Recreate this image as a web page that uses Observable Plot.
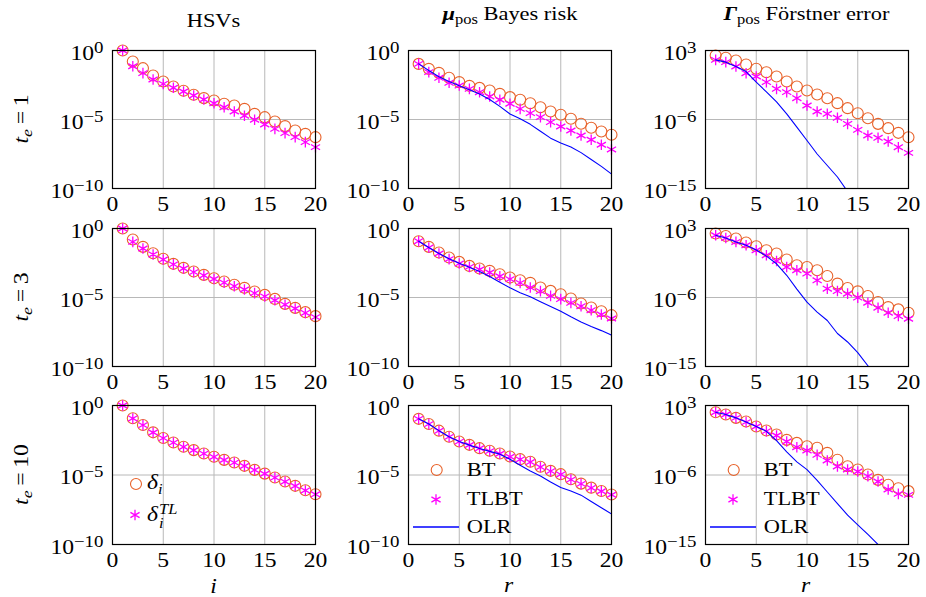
<!DOCTYPE html>
<html><head><meta charset="utf-8">
<script src="https://cdn.jsdelivr.net/npm/d3@7"></script>
<script src="https://cdn.jsdelivr.net/npm/@observablehq/plot@0.6"></script>
<style>
body{margin:0;background:#fff}
#chart{position:relative;width:926px;height:597px;overflow:hidden;background:#fff}
#chart svg.panel{position:absolute}
#overlay{position:absolute;left:0;top:0;pointer-events:none}
</style></head><body><div id="chart"></div>
<script>
// ---------- data (log10 of the plotted values), index k = 1..20 ----------
const ranks = [1,2,3,4,5,6,7,8,9,10,11,12,13,14,15,16,17,18,19,20];
const xTicks = [0,5,10,15,20];
const xGrid = [5,10,15];
const leftTicks = [1, 1e-5, 1e-10];
const rightTicks = [1e3, 1e-6, 1e-15];
const rowLabels = ["1","3","10"];
const colTitles = ["HSVs","Bayes risk","Förstner error"];
const legendMid = ["BT","TLBT","OLR"];

// t_e = 1
const hsvBT_1   = [0,-0.8,-1.28,-1.81,-2.25,-2.61,-2.92,-3.21,-3.45,-3.62,-3.86,-3.99,-4.23,-4.59,-4.83,-5.14,-5.48,-5.80,-6.04,-6.28];
const hsvTL_1   = [0,-1.14,-1.64,-2.10,-2.42,-2.70,-2.97,-3.26,-3.55,-3.82,-4.11,-4.42,-4.73,-5.02,-5.36,-5.68,-5.99,-6.28,-6.64,-7.0];
const bayBT_1   = [-0.97,-1.33,-1.62,-1.98,-2.29,-2.56,-2.71,-2.90,-3.14,-3.38,-3.57,-3.82,-4.11,-4.42,-4.66,-4.95,-5.31,-5.60,-5.87,-6.11];
const bayTL_1   = [-0.97,-1.57,-1.98,-2.34,-2.54,-2.78,-3.02,-3.33,-3.57,-3.86,-4.23,-4.54,-4.83,-5.19,-5.51,-5.80,-6.16,-6.47,-6.83,-7.17];
const bayOLR_1  = [-0.97,-1.45,-1.9,-2.25,-2.55,-2.85,-3.15,-3.55,-4.05,-4.6,-4.95,-5.35,-5.85,-6.35,-6.7,-7.0,-7.4,-7.9,-8.4,-8.95];
const forBT_1   = [2.35,2.05,1.70,1.17,0.61,0.17,-0.39,-1.04,-1.70,-2.22,-2.74,-3.22,-3.87,-4.52,-5.18,-5.83,-6.57,-7.13,-7.74,-8.31];
const forTL_1   = [1.78,1.48,0.91,0.04,-0.39,-1.13,-2.0,-2.43,-3.22,-4.17,-4.96,-5.26,-5.78,-6.57,-7.35,-8.09,-8.39,-8.87,-9.61,-10.35];
const forOLR_1  = [1.78,1.48,0.9,0.26,-1.13,-2.4,-3.7,-5.26,-7.0,-8.74,-10.5,-12.0,-13.5,-15.4];
// t_e = 3
const hsvBT_3   = [0,-0.8,-1.33,-1.79,-2.19,-2.56,-2.85,-3.12,-3.36,-3.60,-3.84,-4.08,-4.30,-4.57,-4.81,-5.10,-5.46,-5.75,-6.06,-6.35];
const hsvTL_3   = [0,-0.97,-1.45,-1.88,-2.25,-2.6,-2.9,-3.16,-3.4,-3.66,-3.92,-4.18,-4.42,-4.68,-4.92,-5.2,-5.52,-5.8,-6.12,-6.42];
const bayBT_3   = [-0.92,-1.33,-1.74,-2.10,-2.42,-2.71,-2.90,-3.07,-3.31,-3.55,-3.75,-3.94,-4.28,-4.52,-4.76,-5.07,-5.43,-5.72,-6.0,-6.28];
const bayTL_3   = [-0.92,-1.38,-1.81,-2.22,-2.54,-2.78,-2.97,-3.19,-3.46,-3.67,-3.94,-4.28,-4.54,-4.88,-5.12,-5.39,-5.63,-5.92,-6.23,-6.52];
const bayOLR_3  = [-0.92,-1.38,-1.81,-2.2,-2.52,-2.8,-3.12,-3.48,-3.9,-4.3,-4.65,-4.95,-5.3,-5.65,-6.0,-6.4,-6.77,-7.1,-7.4,-7.73];
const forBT_3   = [2.35,2.03,1.69,1.17,0.69,0.16,-0.27,-1.05,-1.80,-2.02,-2.45,-3.2,-4.19,-4.76,-5.2,-5.81,-6.59,-7.25,-7.55,-7.98];
const forTL_3   = [2.12,1.77,1.25,0.82,0.16,-0.49,-1.24,-2.02,-2.45,-2.89,-3.76,-4.85,-5.16,-5.5,-6.02,-6.68,-7.33,-7.98,-8.42,-8.77];
const forOLR_3  = [2.12,1.77,1.25,0.82,0.2,-0.6,-1.6,-3.1,-4.9,-6.6,-7.9,-9.0,-10.7,-11.8,-13.2,-14.9,-16.6];
// t_e = 10
const hsvBT_10  = [0,-0.92,-1.40,-1.93,-2.34,-2.66,-2.97,-3.21,-3.45,-3.69,-3.91,-4.10,-4.34,-4.63,-4.90,-5.18,-5.47,-5.78,-6.10,-6.38];
const hsvTL_10  = [0,-0.93,-1.41,-1.94,-2.35,-2.67,-2.98,-3.22,-3.46,-3.70,-3.92,-4.11,-4.35,-4.64,-4.91,-5.19,-5.48,-5.79,-6.11,-6.39];
const bayBT_10  = [-0.96,-1.33,-1.81,-2.25,-2.59,-2.83,-3.07,-3.26,-3.45,-3.67,-3.86,-4.05,-4.41,-4.70,-4.94,-5.31,-5.62,-5.91,-6.15,-6.40];
const bayTL_10  = [-0.96,-1.34,-1.82,-2.26,-2.6,-2.84,-3.08,-3.28,-3.47,-3.69,-3.88,-4.07,-4.43,-4.72,-4.96,-5.33,-5.64,-5.93,-6.17,-6.42];
const bayOLR_10 = [-0.96,-1.33,-1.81,-2.25,-2.59,-2.85,-3.1,-3.3,-3.5,-3.86,-4.3,-4.71,-5.07,-5.5,-5.9,-6.15,-6.45,-6.9,-7.35,-7.8];
const forBT_10  = [2.13,1.83,1.40,0.93,0.28,-0.24,-0.76,-1.45,-1.84,-2.28,-2.48,-3.13,-4.03,-4.86,-5.29,-5.93,-6.63,-7.27,-7.71,-8.09];
const forTL_10  = [2.13,1.83,1.40,0.85,0.28,-0.32,-0.89,-1.66,-2.40,-2.83,-3.39,-4.12,-4.90,-5.29,-5.55,-6.15,-6.84,-7.88,-8.44,-8.57];
const forOLR_10 = [2.13,1.83,1.4,0.85,0.28,-0.35,-1.55,-3.0,-4.3,-5.3,-6.7,-8.2,-9.7,-11.2,-12.45,-13.7,-15.0];

const grid = [
  [[hsvBT_1,hsvTL_1,null],[bayBT_1,bayTL_1,bayOLR_1],[forBT_1,forTL_1,forOLR_1]],
  [[hsvBT_3,hsvTL_3,null],[bayBT_3,bayTL_3,bayOLR_3],[forBT_3,forTL_3,forOLR_3]],
  [[hsvBT_10,hsvTL_10,null],[bayBT_10,bayTL_10,bayOLR_10],[forBT_10,forTL_10,forOLR_10]]
];

// ---------- layout / style ----------
const FONT = "'Liberation Serif', 'Times New Roman', serif";
const FS = 19, FS_TICK = 20, FS_SUP = 16, FS_SMALL = 14, SX = 1.18;
const ORANGE = "#e8622a", MAGENTA = "#ff00ff", BLUE = "#0000ff", GRID = "#b8b8b8";
const colLeft = [112, 408, 705], rowTop = [50, 228, 405], rowH = [138, 138, 139], FW = 203;
const ML = 78, MR = 20, MT = 15, MB = 36;
const svgNS = "http://www.w3.org/2000/svg";
const toRows = arr => arr.map((v, i) => ({x: ranks[i], y: Math.pow(10, v)}));
const STAR_R = 5.0;

// widen a text horizontally around its anchor point
function widen(t) {
  let tr = t.getAttribute("transform");
  if (!tr) {
    const x = t.getAttribute("x") || 0, y = t.getAttribute("y") || 0;
    t.removeAttribute("x"); t.removeAttribute("y");
    tr = `translate(${x},${y})`;
  }
  t.setAttribute("transform", tr + ` scale(${SX},1)`);
}

const root = document.getElementById("chart");

for (let r = 0; r < 3; r++) {
  for (let c = 0; c < 3; c++) {
    const [bt, tl, olr] = grid[r][c];
    const yT = c === 2 ? rightTicks : leftTicks;
    const yDom = c === 2 ? [1e-15, 1e3] : [1e-10, 1];
    const marks = [
      Plot.gridX(xGrid, {stroke: GRID, strokeOpacity: 1, strokeWidth: 1}),
      Plot.gridY([yT[1]], {stroke: GRID, strokeOpacity: 1, strokeWidth: 1}),
      Plot.dot(toRows(bt), {x: "x", y: "y", r: 5.5, stroke: ORANGE, fill: "none", strokeWidth: 1.1}),
      Plot.dot(toRows(tl), {x: "x", y: "y", r: STAR_R, symbol: "asterisk", stroke: MAGENTA, fill: "none", strokeWidth: 1.3})
    ];
    if (olr) marks.push(Plot.line(toRows(olr), {x: "x", y: "y", stroke: BLUE, strokeWidth: 1.1, clip: true}));
    marks.push(
      Plot.frame({stroke: "#000", strokeWidth: 1.2}),
      Plot.axisX(xTicks, {tickSize: 0, tickPadding: 8, label: null, fontSize: FS_TICK}),
      Plot.axisY(yT, {tickSize: 0, tickPadding: 9, label: null, fontSize: FS_TICK, dy: 3,
        tickFormat: d => "10^" + Math.round(Math.log10(d))})
    );
    const chart = Plot.plot({
      width: FW + ML + MR, height: rowH[r] + MT + MB,
      marginLeft: ML, marginRight: MR, marginTop: MT, marginBottom: MB,
      x: {type: "linear", domain: [0, 20]},
      y: {type: "log", domain: yDom},
      style: {fontFamily: FONT, fontSize: FS_TICK + "px", color: "#000", background: "none", overflow: "visible"},
      marks
    });
    chart.classList.add("panel");
    chart.style.left = (colLeft[c] - ML) + "px";
    chart.style.top = (rowTop[r] - MT) + "px";
    chart.querySelectorAll('g[aria-label="y-axis tick label"] text').forEach(t => {
      const parts = t.textContent.split("^");
      if (parts.length !== 2) return;
      t.textContent = parts[0];
      const ts = document.createElementNS(svgNS, "tspan");
      ts.setAttribute("dy", "-7");
      ts.setAttribute("font-size", FS_SUP + "px");
      ts.textContent = parts[1].replace("-", "\u2212");
      t.appendChild(ts);
      widen(t);
    });
    chart.querySelectorAll('g[aria-label="x-axis tick label"] text').forEach(widen);
    root.appendChild(chart);
  }
}

// ---------- overlay: titles, row labels, axis labels, legends ----------
const ov = d3.select(root).append("svg").attr("id", "overlay")
  .attr("width", 926).attr("height", 597)
  .style("font-family", FONT).style("font-size", FS + "px");

function txt(x, y, parts, anchor, rot) {
  const t = ov.append("text").attr("text-anchor", anchor || "start").attr("fill", "#000")
    .attr("transform", `translate(${x},${y})` + (rot ? ` rotate(${rot})` : "") + ` scale(${SX},1)`);
  parts.forEach(p => {
    const s = t.append("tspan").text(p.t);
    if (p.dy) s.attr("dy", p.dy);
    if (p.it) s.attr("font-style", "italic");
    if (p.b) s.attr("font-weight", "bold");
    if (p.fs) s.attr("font-size", p.fs);
  });
  return t;
}

// column titles
txt(213.5, 27, [{t: colTitles[0]}], "middle");
txt(510, 20, [{t: "μ", it: 1, b: 1}, {t: "pos", fs: FS_SMALL, dy: 4}, {t: " " + colTitles[1], dy: -4}], "middle");
txt(806.5, 20, [{t: "Γ", it: 1, b: 1}, {t: "pos", fs: FS_SMALL, dy: 4}, {t: " " + colTitles[2], dy: -4}], "middle");

// row labels
for (let r = 0; r < 3; r++) {
  const cy = rowTop[r] + rowH[r] / 2;
  txt(28, cy, [{t: "t", it: 1, fs: 20}, {t: "e", it: 1, fs: 15, dy: 4}, {t: "\u2009=\u2009" + rowLabels[r], fs: 20, dy: -4}], "middle", -90);
}

// x-axis labels
txt(213.5, 593, [{t: "i", it: 1, fs: 20}], "middle");
txt(508.5, 592, [{t: "r", it: 1, fs: 20}], "middle");
txt(805.5, 592, [{t: "r", it: 1, fs: 20}], "middle");

const star = d3.symbol(d3.symbolAsterisk, Math.PI * STAR_R * STAR_R)();
function circ(x, y) { ov.append("circle").attr("cx", x).attr("cy", y).attr("r", 5.5).attr("fill", "none").attr("stroke", ORANGE).attr("stroke-width", 1.1); }
function ast(x, y) { ov.append("path").attr("d", star).attr("transform", `translate(${x},${y})`).attr("fill", "none").attr("stroke", MAGENTA).attr("stroke-width", 1.3); }

// HSV legend
circ(136, 484);
txt(147, 489, [{t: "δ", it: 1, fs: 20}, {t: "i", it: 1, fs: FS_SMALL, dy: 5}]);
ast(135, 515);
txt(147, 521, [{t: "δ", it: 1, fs: 20}]);
txt(159, 514, [{t: "TL", it: 1, fs: FS_SMALL}]);
txt(159, 528, [{t: "i", it: 1, fs: FS_SMALL}]);

// BT / TLBT / OLR legends
[0, 297].forEach(off => {
  circ(436.7 + off, 470);
  txt(466.7 + off, 476, [{t: legendMid[0]}]);
  ast(436 + off, 499.5);
  txt(466.7 + off, 505, [{t: legendMid[1]}]);
  ov.append("line").attr("x1", 413 + off).attr("x2", 459 + off).attr("y1", 527).attr("y2", 527)
    .attr("stroke", BLUE).attr("stroke-width", 1.4);
  txt(466.7 + off, 533, [{t: legendMid[2]}]);
});
</script></body></html>
